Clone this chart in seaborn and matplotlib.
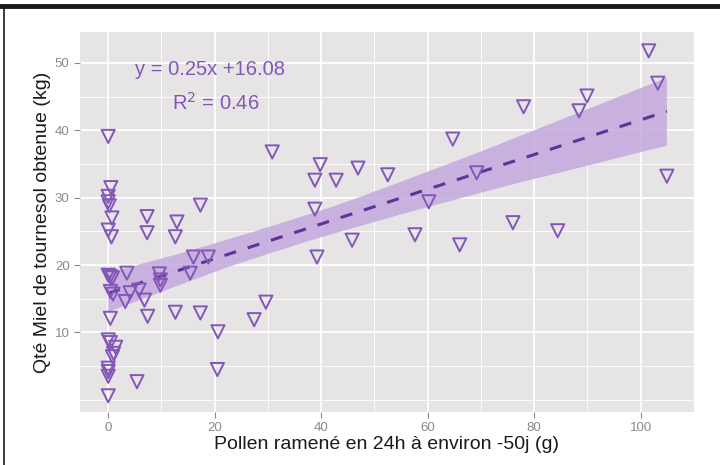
import numpy as np
import pandas as pd
import matplotlib
matplotlib.use("Agg")
import matplotlib.pyplot as plt
import seaborn as sns
from matplotlib.lines import Line2D
from matplotlib.ticker import MultipleLocator

# Data (pollen in g, honey in kg)
pollen = [0, 0.5, 0, 0, 0.2, 0.7, 0, 0.6,
          7.3, 7.3, 12.9, 12.6, 17.3,
          16.0, 18.8,
          0, 0.4, 0.8, 3.5, 9.6, 9.8, 9.8, 15.4,
          0.4, 0.9, 4.1, 5.8, 3.2, 6.8,
          0.4, 7.4, 12.6, 17.3, 20.6,
          0, 0.4, 1.4, 1.0, 0.8, 0, 0, 0, 5.4, 20.5, 0,
          30.8, 39.8, 38.8, 42.8, 46.9, 52.5, 38.8, 45.8, 57.6, 39.2, 29.6, 27.4, 60.2,
          101.5, 103.2, 89.9, 88.4, 78.0, 64.7, 104.9, 69.2, 76.0, 84.4, 66.0]
miel = [39.1, 31.5, 30.2, 29.4, 28.8, 27.0, 25.2, 24.2,
        27.2, 24.8, 26.4, 24.2, 28.9,
        21.2, 21.2,
        18.5, 18.3, 18.1, 18.8, 18.7, 17.8, 17.0, 18.8,
        16.1, 15.7, 15.9, 16.3, 14.6, 14.8,
        12.1, 12.4, 13.0, 12.9, 10.1,
        8.9, 8.5, 7.8, 6.9, 6.4, 4.7, 4.2, 3.5, 2.7, 4.5, 0.6,
        36.8, 34.9, 32.6, 32.6, 34.4, 33.4, 28.3, 23.7, 24.5, 21.2, 14.5, 11.9, 29.4,
        51.8, 47.0, 45.1, 42.9, 43.5, 38.7, 33.2, 33.7, 26.3, 25.1, 23.0]
x_ticks = [0, 20, 40, 60, 80, 100]
y_ticks = [10, 20, 30, 40, 50]

df = pd.DataFrame({"pollen": pollen, "miel": miel})

purple = "#8456b8"
line_purple = "#5e3494"
band_purple = "#c3a9df"

plt.rcParams['font.family'] = ['Liberation Sans', 'DejaVu Sans']

fig = plt.figure(figsize=(7.2, 4.65), dpi=100)
ax = fig.add_axes([80 / 720, 53 / 465, 614 / 720, 380 / 465])
ax.set_facecolor("#e6e4e4")

# regression line + confidence band
sns.regplot(data=df, x="pollen", y="miel", scatter=False, ax=ax, seed=3,
            n_boot=2000,
            line_kws={"color": line_purple, "ls": (0, (4, 4)), "lw": 2.2})
for coll in ax.collections:
    coll.set_facecolor(band_purple)
    coll.set_alpha(0.85)
    coll.set_edgecolor("none")

sns.scatterplot(data=df, x="pollen", y="miel", ax=ax, marker="v", s=90,
                facecolors="none", edgecolors=purple, linewidths=1.4, zorder=4)

ax.set_xlim(-5.3, 110.0)
ax.set_ylim(-1.8, 54.6)
ax.set_xticks(x_ticks)
ax.set_yticks(y_ticks)
ax.xaxis.set_minor_locator(MultipleLocator(10))
ax.yaxis.set_minor_locator(MultipleLocator(5))
ax.grid(which="major", color="white", lw=1.3)
ax.grid(which="minor", color="white", lw=0.6)
ax.set_axisbelow(True)
for s in ax.spines.values():
    s.set_visible(False)
ax.tick_params(which="major", length=4, color="#8a8a8a", labelcolor="#8a8a8a",
               labelsize=9.5, width=0.8)
ax.tick_params(which="minor", length=0)

ax.set_xlabel("Pollen ramené en 24h à environ -50j (g)", fontsize=14, color="#1a1a1a", labelpad=1)
ax.set_ylabel("Qté Miel de tournesol obtenue (kg)", fontsize=14, color="#1a1a1a", labelpad=3)

ax.text(5.1, 49.1, "y = 0.25x +16.08", fontsize=14.5, color=purple, va="center")
ax.text(12.0, 44.1, "R$^2$ = 0.46", fontsize=14.5, color=purple, va="center")

# frame lines around the figure
fig.add_artist(Line2D([0, 1], [1 - 6.5 / 465, 1 - 6.5 / 465], color="#1a1a1a", lw=3.5))
fig.add_artist(Line2D([3.5 / 720, 3.5 / 720], [0, 1 - 6.5 / 465], color="#1a1a1a", lw=1.2))

fig.savefig("out.png", dpi=100)
